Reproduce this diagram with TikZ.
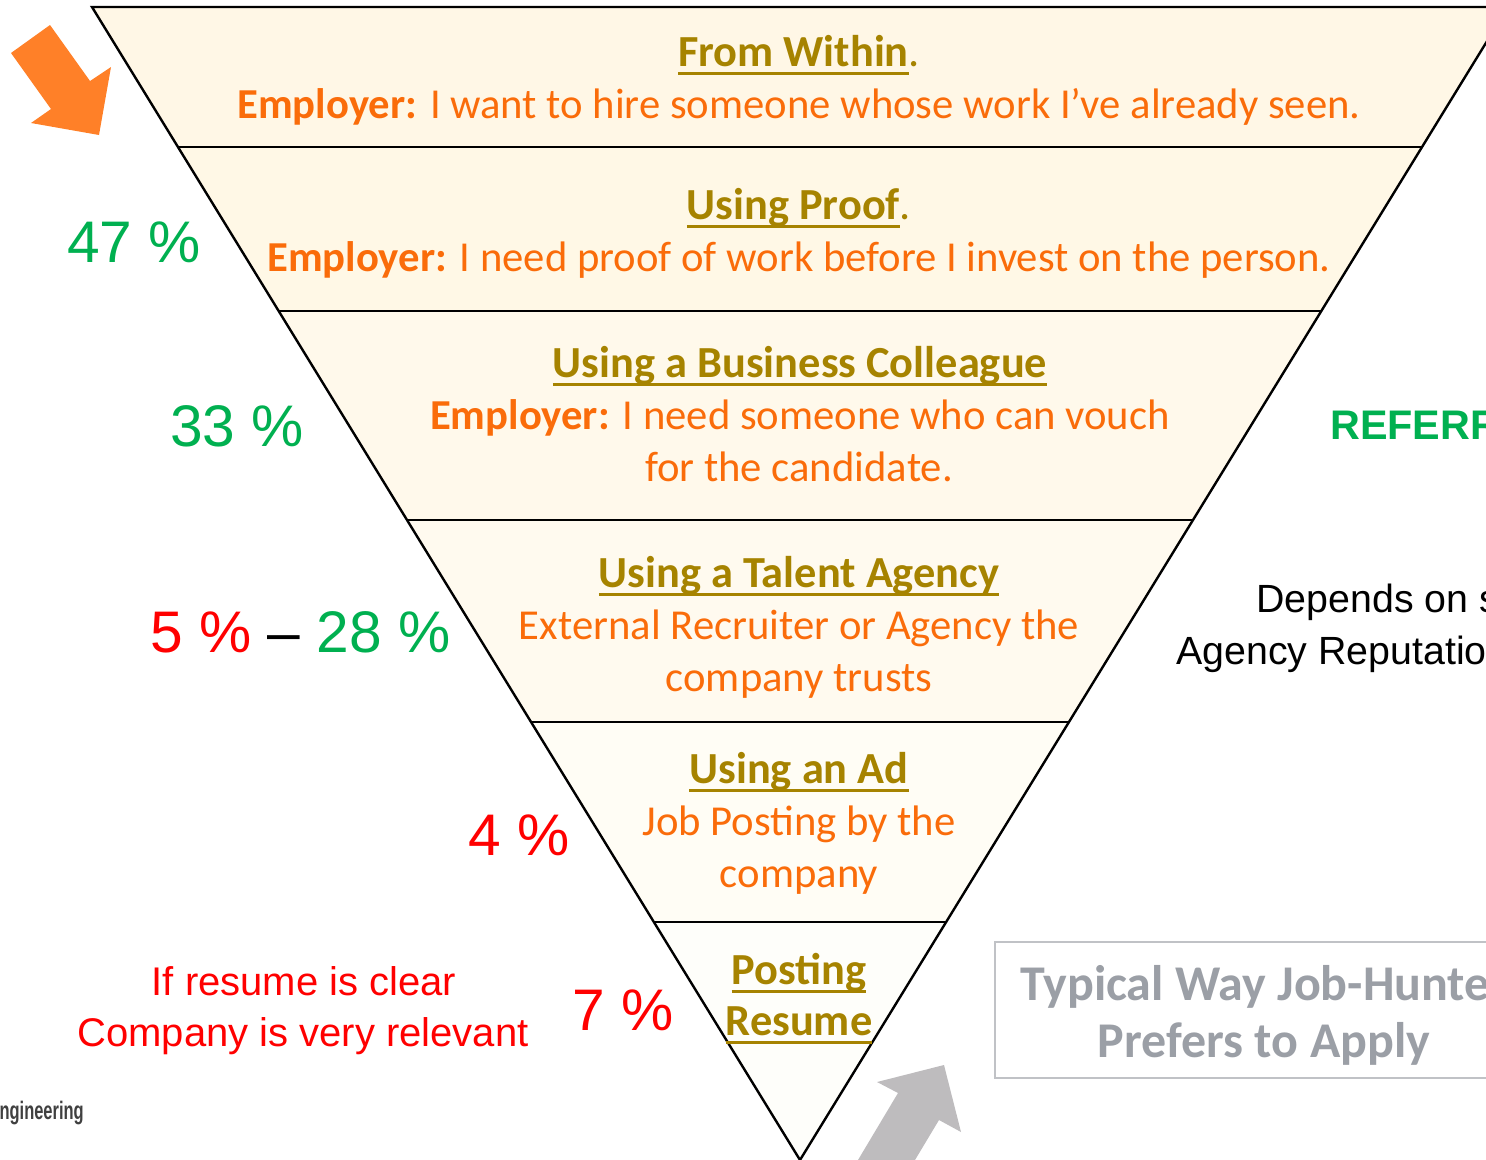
\documentclass[tikz,border=0pt]{standalone}
\usepackage{fontspec}
\setmainfont{Carlito}
\newfontfamily\arialf{Liberation Sans}
\usetikzlibrary{calc}
\definecolor{gold}{RGB}{166,131,0}
\definecolor{orng}{RGB}{250,108,10}
\definecolor{pgreen}{RGB}{0,176,80}
\definecolor{pred}{RGB}{255,0,0}
\definecolor{arrorange}{RGB}{255,128,40}
\definecolor{arrgray}{RGB}{190,188,190}
\definecolor{boxline}{RGB}{192,194,198}
\definecolor{boxtext}{RGB}{155,159,166}
\definecolor{cA}{RGB}{255,247,230}
\definecolor{cB}{RGB}{255,248,230}
\definecolor{cC}{RGB}{255,249,235}
\definecolor{cD}{RGB}{255,250,239}
\definecolor{cE}{RGB}{255,253,245}
\definecolor{cF}{RGB}{254,254,250}
\newsavebox\ulbox
\newcommand\ulx[1]{\sbox\ulbox{#1}\rlap{\rule[-6.5pt]{\wd\ulbox}{2.2pt}}\usebox\ulbox}
\begin{document}
\begin{tikzpicture}[x=0.75pt,y=-0.75pt,
  edge/.style={draw=black,line width=1.8pt,line join=miter},
  ttl/.style={anchor=base,inner sep=0pt,text=gold,font=\bfseries\fontsize{33.3}{40}\selectfont},
  body/.style={anchor=base,inner sep=0pt,text=orng,font=\fontsize{32}{39}\selectfont},
  pct/.style={anchor=base west,inner sep=0pt,font=\arialf\fontsize{44}{52}\selectfont},
  note/.style={anchor=base,inner sep=0pt,text=pred,font=\arialf\fontsize{30}{36}\selectfont},
  side/.style={anchor=base west,inner sep=0pt,font=\arialf\fontsize{29.5}{35}\selectfont},
  boxtxt/.style={inner sep=0pt,text=boxtext,font=\bfseries\fontsize{37.5}{45}\selectfont}]
\useasboundingbox (0,0) rectangle (1486,1160);
\clip (0,0) rectangle (1486,1160);
% funnel geometry
\coordinate (TL) at (92,7);
\coordinate (TR) at (1508,7);
\coordinate (AP) at (800,1160);
\foreach \n/\t in {1/0.12142,2/0.26366,3/0.44493,4/0.62012,5/0.79358}{
  \coordinate (L\n) at ($(TL)!\t!(AP)$);
  \coordinate (R\n) at ($(TR)!\t!(AP)$);
}
\fill[cA] (TL) -- (TR) -- (R1) -- (L1) -- cycle;
\fill[cB] (L1) -- (R1) -- (R2) -- (L2) -- cycle;
\fill[cC] (L2) -- (R2) -- (R3) -- (L3) -- cycle;
\fill[cD] (L3) -- (R3) -- (R4) -- (L4) -- cycle;
\fill[cE] (L4) -- (R4) -- (R5) -- (L5) -- cycle;
\fill[cF] (L5) -- (R5) -- (AP) -- cycle;
\draw[edge] (TL) -- (AP) -- (TR) -- cycle;
\foreach \n in {1,...,5}{\draw[edge] (L\n) -- (R\n);}
% band texts
\node[ttl] (t1) at (799,66) {\ulx{From Within}\mdseries.};
\node[body] (d1) at (799,118) {\textbf{Employer:} I want to hire someone whose work I’ve already seen.};
\node[ttl] (t2) at (799,219) {\ulx{Using Proof}\mdseries.};
\node[body] (d2) at (799,271) {\textbf{Employer:} I need proof of work before I invest on the person.};
\node[ttl] (t3) at (800,377) {\ulx{Using a Business Colleague}};
\node[body] (d3a) at (800,429) {\textbf{Employer:} I need someone who can vouch};
\node[body] (d3b) at (799,481) {for the candidate.};
\node[ttl] (t4) at (799,587) {\ulx{Using a Talent Agency}};
\node[body] (d4a) at (799,639) {External Recruiter or Agency the};
\node[body] (d4b) at (799,691) {company trusts};
\node[ttl] (t5) at (799,783) {\ulx{Using an Ad}};
\node[body] (d5a) at (799,835) {Job Posting by the};
\node[body] (d5b) at (799,887) {company};
\node[ttl] (t6a) at (799,984) {\ulx{Posting}};
\node[ttl] (t6b) at (799,1035) {\ulx{Resume}};
% percentages
\node[pct,text=pgreen] (p1) at (67,262) {47 \%};
\node[pct,text=pgreen] (p2) at (170,446) {33 \%};
\node[pct] (p3) at (150,652) {\textcolor{pred}{5 \%} – \textcolor{pgreen}{28 \%}};
\node[pct,text=pred] (p4) at (468,855) {4 \%};
\node[pct,text=pred] (p5) at (572,1030) {7 \%};
\node[note] (n1) at (304,995) {If resume is clear};
\node[note] (n2) at (303,1046) {Company is very relevant};
% right side
\node[side,text=pgreen,font=\arialf\bfseries\fontsize{31}{37}\selectfont] (ref) at (1330,439) {REFERR};
\node[side] (s1) at (1256,612) {Depends on s};
\node[side] (s2) at (1176,664) {Agency Reputatio};
% gray box
\draw[boxline,line width=2.2pt] (995,942) rectangle (1500,1078);
\node[boxtxt,anchor=base west] (g1) at (1020,1000) {Typical Way Job-Hunte};
\node[boxtxt,anchor=base] (g2) at (1264,1057) {Prefers to Apply};
% arrows
\fill[arrorange] (11,53) -- (50,25) -- (90,81) -- (111,67) -- (99,135) -- (31,123) -- (51,109) -- cycle;
\fill[arrgray] (858,1160) -- (898,1093) -- (877,1082) -- (944,1065) -- (961,1132) -- (939,1120) -- (915,1160) -- cycle;
% footer fragment
\node[anchor=base east,inner sep=0pt,text=black!75,font=\arialf\bfseries\fontsize{19}{22}\selectfont] (foot) at (84,1119) {\scalebox{0.65}[1]{ngineering}};
\end{tikzpicture}
\end{document}
